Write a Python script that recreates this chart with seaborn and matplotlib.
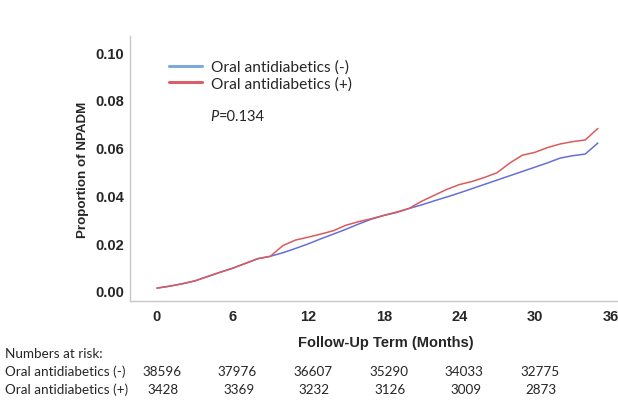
import numpy as np
import pandas as pd
import matplotlib
matplotlib.use("Agg")
import matplotlib.pyplot as plt
import seaborn as sns
from matplotlib.lines import Line2D
from matplotlib import transforms

months = list(range(36))
neg_values = [0.0012, 0.0020, 0.0030, 0.0042, 0.0060, 0.0078, 0.0095, 0.0115, 0.0135, 0.0145,
              0.0160, 0.0178, 0.0197, 0.0218, 0.0238, 0.0258, 0.0280, 0.0300, 0.0316, 0.0328,
              0.0345, 0.0360, 0.0377, 0.0393, 0.0410, 0.0428, 0.0446, 0.0464, 0.0482, 0.0500,
              0.0518, 0.0536, 0.0556, 0.0566, 0.0573, 0.0619]
pos_values = [0.0012, 0.0020, 0.0030, 0.0042, 0.0060, 0.0078, 0.0095, 0.0115, 0.0135, 0.0145,
              0.0190, 0.0213, 0.0225, 0.0238, 0.0252, 0.0275, 0.0290, 0.0302, 0.0316, 0.0330,
              0.0345, 0.0375, 0.0400, 0.0425, 0.0445, 0.0458, 0.0475, 0.0495, 0.0535, 0.0568,
              0.0580, 0.0600, 0.0615, 0.0625, 0.0632, 0.0680]
series_names = ["Oral antidiabetics (-)", "Oral antidiabetics (+)"]
x_ticks = [0, 6, 12, 18, 24, 30, 36]
y_ticks = [0.00, 0.02, 0.04, 0.06, 0.08, 0.10]
risk_times = [0, 6, 12, 18, 24, 30]
risk_neg = ["38596", "37976", "36607", "35290", "34033", "32775"]
risk_pos = ["3428", "3369", "3232", "3126", "3009", "2873"]
p_text = "=0.134"

df = pd.DataFrame({
    "month": months + months,
    "value": neg_values + pos_values,
    "group": [series_names[0]] * len(months) + [series_names[1]] * len(months),
})

sns.set_theme(style="white")
plt.rcParams["font.family"] = ["Liberation Sans", "DejaVu Sans"]

line_colors = ["#6470d8", "#dc5a5a"]
legend_colors = ["#7fa8dc", "#d9606a"]

fig = plt.figure(figsize=(6.18, 4.02), dpi=100)
ax = fig.add_axes([130 / 618, 100 / 402, 488 / 618, 265 / 402])

sns.lineplot(data=df, x="month", y="value", hue="group", hue_order=series_names,
             palette=line_colors, linewidth=1.1, ax=ax, legend=False)

ax.set_xlim(-2.14, 36.6)
ax.set_ylim(-0.0042, 0.1067)
ax.set_xticks(x_ticks)
ax.set_yticks(y_ticks)
ax.set_xticklabels([str(t) for t in x_ticks], fontweight="bold", fontsize=10.5)
ax.set_yticklabels([f"{t:.2f}" for t in y_ticks], fontweight="bold", fontsize=10.5)
ax.tick_params(axis="both", length=0, pad=4)
ax.tick_params(axis="x", pad=6)
for s in ["top", "right"]:
    ax.spines[s].set_visible(False)
for s in ["left", "bottom"]:
    ax.spines[s].set_color("#c8c8c8")
    ax.spines[s].set_linewidth(1.0)

ax.set_ylabel("Proportion of NPADM", fontweight="bold", fontsize=9.6, labelpad=5)
ax.set_xlabel("")
fig.text(386 / 618, 1 - 343 / 402, "Follow-Up Term (Months)", ha="center", va="center",
         fontweight="bold", fontsize=10.5)

handles = [Line2D([0], [0], color=legend_colors[0], lw=2.2),
           Line2D([0], [0], color=legend_colors[1], lw=2.2)]
leg = ax.legend(handles, series_names, loc="upper left", bbox_to_anchor=(0.052, 0.963),
                frameon=False, handlelength=2.1, handletextpad=0.55, labelspacing=0.12,
                prop={"family": "Lato", "size": 11.2})

ax.text(210 / 618, 1 - 117 / 402, "P", transform=fig.transFigure, fontstyle="italic",
        family="Lato", fontsize=10.5, va="center", ha="left")
ax.text(219 / 618, 1 - 117 / 402, p_text, transform=fig.transFigure,
        family="Lato", fontsize=10.5, va="center", ha="left")

fs = 9.7
fig.text(5 / 618, 1 - 354 / 402, "Numbers at risk:", family="Lato", fontsize=fs, va="center")
fig.text(5 / 618, 1 - 372 / 402, series_names[0], family="Lato", fontsize=fs, va="center")
fig.text(5 / 618, 1 - 390 / 402, series_names[1], family="Lato", fontsize=fs, va="center")
trans = transforms.blended_transform_factory(ax.transData, fig.transFigure)
for t, a, b in zip(risk_times, risk_neg, risk_pos):
    ax.text(t + 0.4, 1 - 372 / 402, a, transform=trans, family="Lato", fontsize=fs,
            ha="center", va="center", clip_on=False)
    ax.text(t + 0.5, 1 - 390 / 402, b, transform=trans, family="Lato", fontsize=fs,
            ha="center", va="center", clip_on=False)

fig.savefig("out.png", dpi=100)
